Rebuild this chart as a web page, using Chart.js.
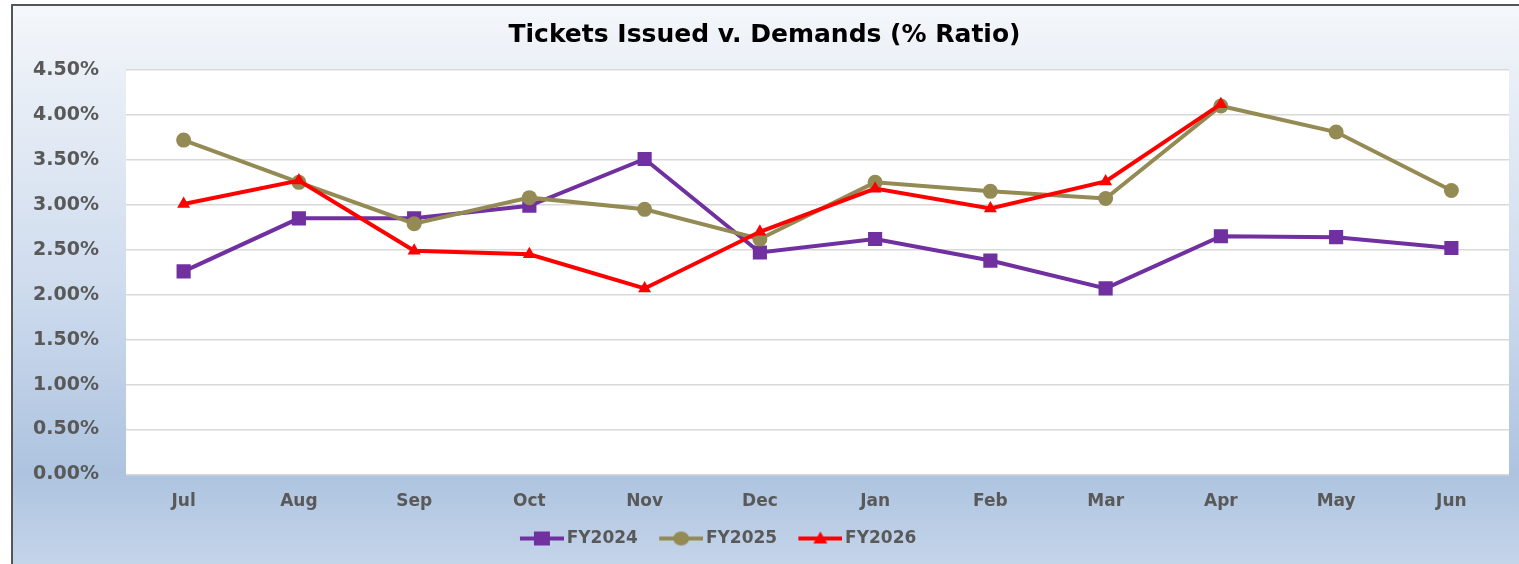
<!DOCTYPE html>
<html>
<head>
<meta charset="utf-8">
<title>Tickets Issued v. Demands</title>
<script src="https://cdn.jsdelivr.net/npm/chart.js@4"></script>
<style>
  html, body { margin: 0; padding: 0; overflow: hidden; background: #fff; }
  #wrap { position: relative; width: 1519px; height: 564px; }
</style>
</head>
<body>
<div id="wrap"><canvas id="myChart"></canvas></div>
<script>
// Meses del año fiscal (eje X)
const meses = ['Jul', 'Aug', 'Sep', 'Oct', 'Nov', 'Dec', 'Jan', 'Feb', 'Mar', 'Apr', 'May', 'Jun'];

// Valores en %
const fy2024 = [2.26, 2.85, 2.85, 2.99, 3.51, 2.47, 2.62, 2.38, 2.07, 2.65, 2.64, 2.52];
const fy2025 = [3.72, 3.25, 2.79, 3.08, 2.95, 2.62, 3.25, 3.15, 3.07, 4.10, 3.81, 3.16];
const fy2026 = [3.01, 3.27, 2.49, 2.45, 2.07, 2.70, 3.18, 2.96, 3.26, 4.12, null, null];

// Etiquetas del eje Y
const yMin = 0, yMax = 4.5, yPaso = 0.5;

const colorGris = '#595959';
const fuente = 'DejaVu Sans';

// Dibuja el icono de la leyenda: línea con marcador, pegado a la derecha
// de la imagen para que el texto quede cerca (como en Excel)
function iconoLeyenda(color, estilo) {
    const c = document.createElement('canvas');
    c.width = 61; c.height = 16;
    const g = c.getContext('2d');
    g.translate(17, 0);
    g.strokeStyle = color;
    g.lineWidth = 4;
    g.beginPath(); g.moveTo(0, 8); g.lineTo(44, 8); g.stroke();
    g.fillStyle = color;
    g.beginPath();
    if (estilo === 'rect') g.rect(14, 1, 16, 14);
    else if (estilo === 'circle') g.ellipse(22, 8, 8, 7, 0, 0, Math.PI * 2);
    else { g.moveTo(22, 1); g.lineTo(29, 13); g.lineTo(15, 13); g.closePath(); }
    g.fill();
    return c;
}

// Fondo degradado, marco y área blanca del gráfico
const fondoPlugin = {
    id: 'fondo',
    afterLayout(chart) {
        // la leyenda de la original está corrida a la izquierda
        chart.legend.right -= 104;
    },
    beforeDraw(chart) {
        const ctx = chart.ctx, a = chart.chartArea;
        ctx.save();
        const grad = ctx.createLinearGradient(0, 0, 0, chart.height);
        grad.addColorStop(0, '#f5f8fb');
        grad.addColorStop(0.12, '#ebf0f7');
        grad.addColorStop(0.5, '#cfdcee');
        grad.addColorStop(0.84, '#adc3df');
        grad.addColorStop(1, '#c4d5ea');
        ctx.fillStyle = grad;
        ctx.fillRect(0, 0, chart.width, chart.height);
        ctx.fillStyle = '#ffffff';
        ctx.fillRect(0, 0, chart.width, 4);
        ctx.fillRect(0, 0, 11, chart.height);
        ctx.fillRect(a.left, a.top, a.right - a.left, a.bottom - a.top);
        ctx.strokeStyle = '#555555';
        ctx.lineWidth = 2;
        ctx.beginPath();
        ctx.moveTo(12, chart.height); ctx.lineTo(12, 5); ctx.lineTo(chart.width, 5);
        ctx.stroke();
        ctx.restore();
    }
};

const series = [
    { label: 'FY2024', data: fy2024, color: '#7030a0', estilo: 'rect', radio: 10, orden: 3 },
    { label: 'FY2025', data: fy2025, color: '#948a54', estilo: 'circle', radio: 7.5, orden: 2 },
    { label: 'FY2026', data: fy2026, color: '#ff0000', estilo: 'triangle', radio: 7.5, orden: 1 }
];

const ctx = document.getElementById('myChart').getContext('2d');
const myChart = new Chart(ctx, {
    type: 'line',
    data: {
        labels: meses,
        datasets: series.map(s => ({
            label: s.label,
            data: s.data,
            borderColor: s.color,
            backgroundColor: s.color,
            borderWidth: 4,
            pointStyle: s.estilo,
            pointRadius: s.radio,
            pointBorderWidth: 0,
            pointBackgroundColor: s.color,
            tension: 0,
            fill: false,
            order: s.orden
        }))
    },
    options: {
        responsive: true,
        maintainAspectRatio: false,
        animation: false,
        layout: { padding: { top: 6, left: 12, right: 2, bottom: 7 } },
        plugins: {
            tooltip: { enabled: false },
            title: {
                display: true,
                text: 'Tickets Issued v. Demands (% Ratio)',
                color: '#000000',
                font: { family: fuente, size: 25, weight: 'bold' },
                padding: { top: 14, bottom: 20 }
            },
            legend: {
                position: 'bottom',
                labels: {
                    color: colorGris,
                    font: { family: fuente, size: 17, weight: 'bold' },
                    usePointStyle: true,
                    pointStyleWidth: 49.5,
                    boxHeight: 16,
                    padding: 10,
                    generateLabels(chart) {
                        return series.map((s, i) => ({
                            text: s.label,
                            pointStyle: iconoLeyenda(s.color, s.estilo),
                            fillStyle: s.color,
                            strokeStyle: s.color,
                            lineWidth: 0,
                            fontColor: colorGris,
                            hidden: false,
                            datasetIndex: i
                        }));
                    }
                }
            }
        },
        scales: {
            x: {
                offset: true,
                grid: { display: false, drawTicks: false },
                border: { display: false },
                ticks: {
                    color: colorGris,
                    padding: 17,
                    font: { family: fuente, size: 17, weight: 'bold' }
                },
                afterFit(scale) { scale.height = 45.5; }
            },
            y: {
                min: yMin,
                max: yMax,
                grid: { color: '#d9d9d9', lineWidth: 1.5, drawTicks: false },
                border: { display: false },
                ticks: {
                    stepSize: yPaso,
                    color: colorGris,
                    padding: 27,
                    font: { family: fuente, size: 19, weight: 'bold' },
                    callback: v => v.toFixed(2) + '%'
                },
                afterFit(scale) { scale.width = 114; }
            }
        }
    },
    plugins: [fondoPlugin]
});
</script>
</body>
</html>
